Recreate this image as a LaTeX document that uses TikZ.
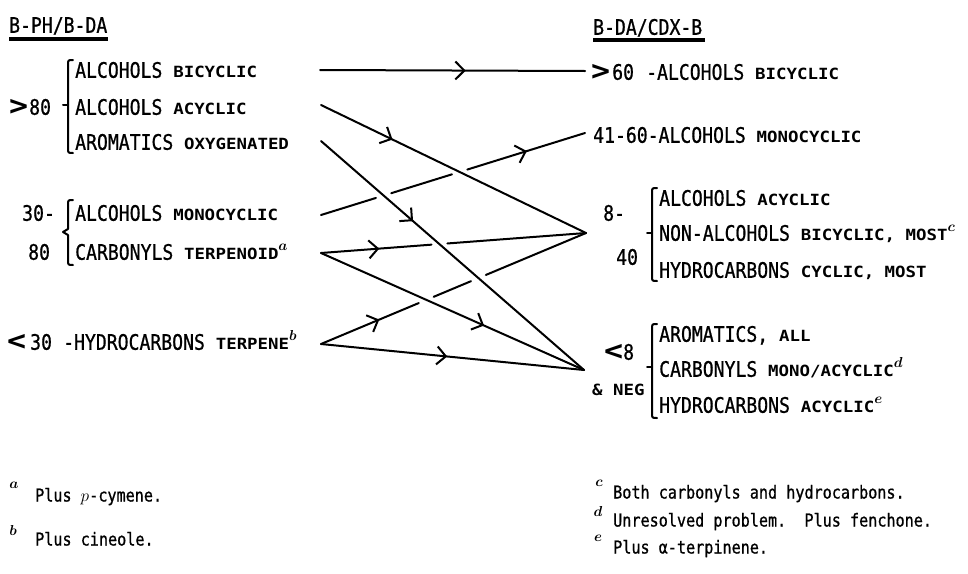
\documentclass[tikz,border=0pt]{standalone}
\usepackage{fontspec}
\usepackage{graphicx}
\usetikzlibrary{arrows.meta,decorations.markings,calc}
\newfontfamily\twfont{DejaVu Sans Mono}[FakeStretch=0.85, FakeBold=0.8]
\newfontfamily\smcfont{DejaVu Sans Mono}[FakeStretch=1.13]
\newcommand\MT{\twfont\fontsize{21.3}{22}\selectfont}
\newcommand\SC[1]{{\smcfont\bfseries\fontsize{15.4}{16}\selectfont #1}}
\newcommand\FN[1]{\raisebox{9pt}{\fontsize{15}{15}\selectfont\boldmath$#1$}}
\newcommand\FM[1]{{\fontsize{15}{15}\selectfont\boldmath$#1$}}
\newcommand\brk[4]{\draw[brkline] ({#1+5},#2) .. controls (#1,#2) .. (#1,{#2+5}) -- (#1,{#4-5}) .. controls (#1,#4) .. ({#1+5},#4); \draw[brkline] ({#1-5},#3) -- (#1,#3);}
\newcommand\brc[4]{\draw[brkline] ({#1+5},#2) .. controls (#1,#2) .. (#1,{#2+5}) -- (#1,{#3-3}) -- ({#1-5},#3) -- (#1,{#3+3}) -- (#1,{#4-5}) .. controls (#1,#4) .. ({#1+5},#4);}
\tikzset{
  txt/.style={anchor=west, inner sep=0pt, text height=15.5pt, text depth=0pt, font=\MT},
  chev/.style={anchor=west, inner sep=0pt, font=\smcfont\bfseries\fontsize{28}{28}\selectfont},
  fntxt/.style={anchor=west, inner sep=0pt, text height=13pt, text depth=0pt, font=\twfont\fontsize{17.8}{18}\selectfont},
  fmark/.style={inner sep=0pt, anchor=center},
  ul/.style={line width=3.5pt},
  brkline/.style={line width=2pt, line cap=round, line join=round},
  ln/.style={line width=2pt, line cap=round, line join=round},
  mk/.style={decorate, decoration={markings, mark=at position #1 with {\arrow{Straight Barb[length=9pt,width=18pt,line width=2pt]}}}}
}
\begin{document}
\begin{tikzpicture}[x=1pt,y=-1pt]
\useasboundingbox (0,0) rectangle (968,573);
% headings
\node[txt] (h1) at (9,25) {B-PH/B-DA};
\draw[ul] (9,39) -- (108,39);
\node[txt] (h2) at (593,27) {B-DA/CDX-B};
\draw[ul] (593,40) -- (705,40);
% left group 1
\node[chev] (gt) at (9,107) {>};
\node[txt] (g80) at (29,107) {80};
\brk{68}{60}{105}{153}
\node[txt] (l1) at (75,70) {ALCOHOLS \SC{BICYCLIC}};
\node[txt] (l2) at (75,107) {ALCOHOLS \SC{ACYCLIC}};
\node[txt] (l3) at (75,142) {AROMATICS \SC{OXYGENATED}};
% left group 2
\node[txt] (g30) at (22,213) {30-};
\node[txt] (g80b) at (28,252) {80};
\brc{68}{200}{232}{265}
\node[txt] (l4) at (75,213) {ALCOHOLS \SC{MONOCYCLIC}};
\node[txt] (l5) at (75,252) {CARBONYLS \SC{TERPENOID}\FN{a}};
% left group 3
\node[chev] (glt) at (7,342) {<};
\node[txt] (g30b) at (30,342) {30};
\node[txt] (l6) at (63,342) {-HYDROCARBONS \SC{TERPENE}\FN{b}};
% right
\node[chev] (rgt) at (591,72) {>};
\node[txt] (r60) at (612,72) {60};
\node[txt] (r1) at (646,72) {-ALCOHOLS \SC{BICYCLIC}};
\node[txt] (r2) at (593,135) {41-60-ALCOHOLS \SC{MONOCYCLIC}};
\node[txt] (r8) at (603,213) {8-};
\node[txt] (r40) at (616,257) {40};
\brk{652}{188}{233}{281}
\node[txt] (r3) at (659,198) {ALCOHOLS \SC{ACYCLIC}};
\node[txt] (r4) at (659,233) {NON-ALCOHOLS \SC{BICYCLIC, MOST}\FN{c}};
\node[txt] (r5) at (659,270) {HYDROCARBONS \SC{CYCLIC, MOST}};
\node[chev] (rlt) at (604,352) {<};
\node[txt] (r8b) at (623,352) {8};
\node[anchor=west, inner sep=0pt] (rneg) at (592,390) {\SC{\& NEG}};
\brk{652}{324}{367}{418}
\node[txt] (r6) at (659,334) {AROMATICS, \SC{ALL}};
\node[txt] (r7) at (659,369) {CARBONYLS \SC{MONO/ACYCLIC}\FN{d}};
\node[txt] (r9) at (659,405) {HYDROCARBONS \SC{ACYCLIC}\FN{e}};
% connector points
\coordinate (a1) at (320,70);
\coordinate (b1) at (585,71);
\coordinate (a2) at (321,105);
\coordinate (bC) at (586,233);
\coordinate (a3) at (321,141);
\coordinate (bD) at (584,370);
\coordinate (a4) at (321,215);
\coordinate (b2) at (585,133);
\coordinate (a5) at (321,253);
\coordinate (a6) at (321,344);
% unbroken lines
\draw[ln] (a1) -- (b1);            \path[mk=0.55] (a1) -- (b1);
\draw[ln] (a2) -- (bC);            \path[mk=0.27] (a2) -- (bC);
\draw[ln] (a3) -- (bD);            \path[mk=0.35] (a3) -- (bD);
\draw[ln] (a5) -- (bD);            \path[mk=0.62] (a5) -- (bD);
\draw[ln] (a6) -- (bD);            \path[mk=0.48] (a6) -- (bD);
% lines broken where they pass under others
\draw[ln] (a4) -- ($(a4)!0.208!(b2)$) ($(a4)!0.266!(b2)$) -- ($(a4)!0.496!(b2)$) ($(a4)!0.554!(b2)$) -- (b2);
\path[mk=0.78] (a4) -- (b2);
\draw[ln] (a5) -- ($(a5)!0.417!(bC)$) ($(a5)!0.477!(bC)$) -- (bC);
\path[mk=0.22] (a5) -- (bC);
\draw[ln] (a6) -- ($(a6)!0.369!(bC)$) ($(a6)!0.425!(bC)$) -- ($(a6)!0.566!(bC)$) ($(a6)!0.622!(bC)$) -- (bC);
\path[mk=0.22] (a6) -- (bC);
% footnotes
\node[fmark] (fa) at (14,485) {\FM{a}};
\node[fntxt] (fta) at (35,495) {Plus $p$-cymene.};
\node[fmark] (fb) at (13,530) {\FM{b}};
\node[fntxt] (ftb) at (35,539) {Plus cineole.};
\node[fmark] (fc) at (599,483) {\FM{c}};
\node[fntxt] (ftc) at (613,492) {Both carbonyls and hydrocarbons.};
\node[fmark] (fd) at (598,511) {\FM{d}};
\node[fntxt] (ftd) at (613,520) {Unresolved problem.\ \ Plus fenchone.};
\node[fmark] (fe) at (598,538) {\FM{e}};
\node[fntxt] (fte) at (613,547) {Plus α-terpinene.};
\end{tikzpicture}
\end{document}
